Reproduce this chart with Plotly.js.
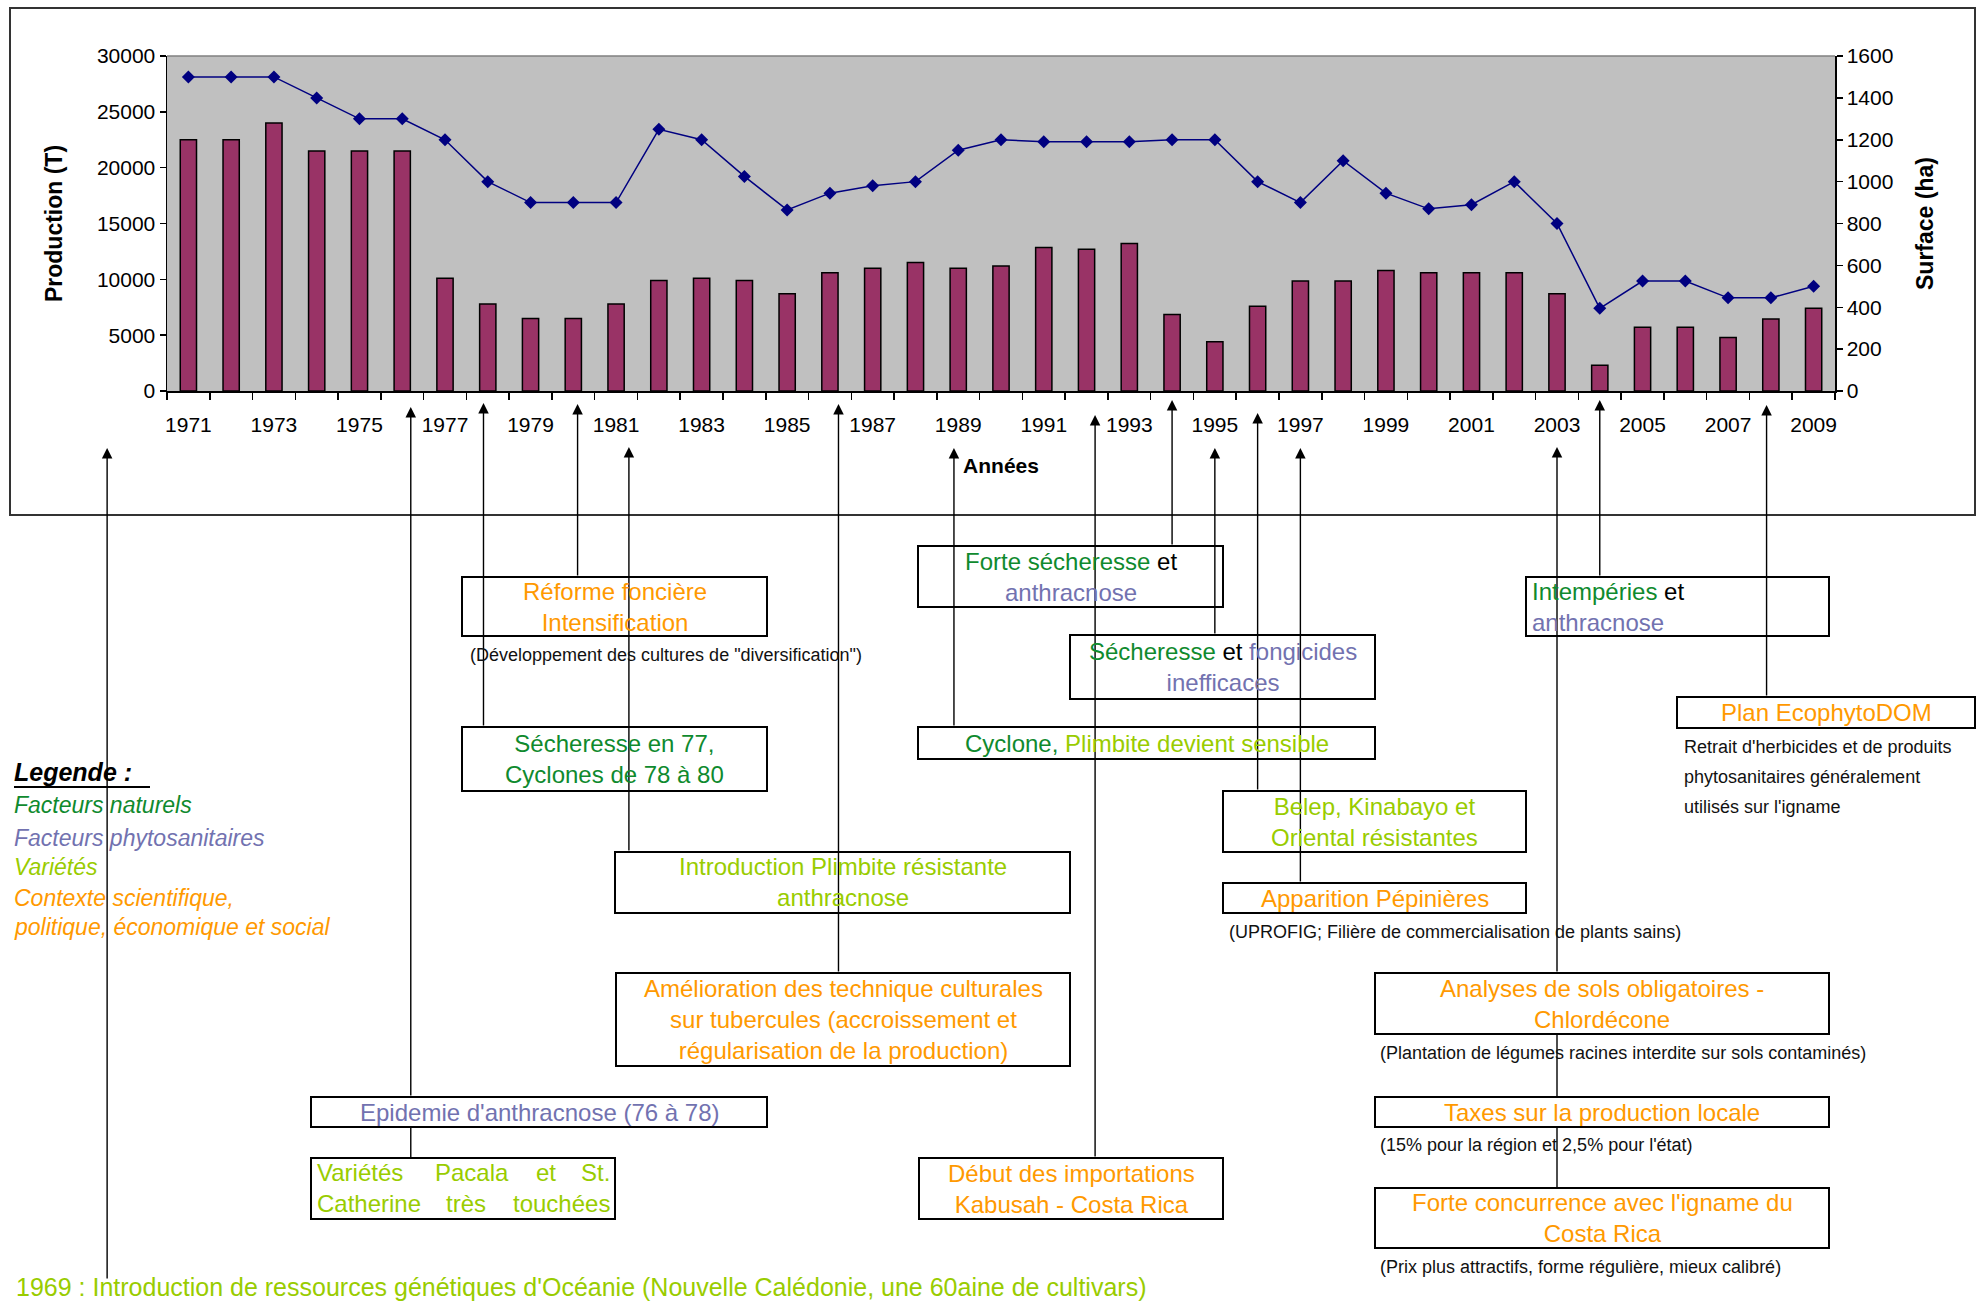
<!DOCTYPE html>
<html>
<head>
<meta charset="utf-8">
<script src="https://cdn.plot.ly/plotly-3.0.1.min.js"></script>
<style>html,body{margin:0;padding:0;background:#fff;}#chart{width:1979px;height:1305px;}</style>
</head>
<body>
<div id="chart"></div>
<script>
// ---------------- DATA ----------------
const years = [1971,1972,1973,1974,1975,1976,1977,1978,1979,1980,
               1981,1982,1983,1984,1985,1986,1987,1988,1989,1990,
               1991,1992,1993,1994,1995,1996,1997,1998,1999,2000,
               2001,2002,2003,2004,2005,2006,2007,2008,2009];
const production = [22500,22500,24000,21500,21500,21500,10100,7800,6500,6500,
                    7800,9900,10100,9900,8700,10600,11000,11500,11000,11200,
                    12850,12700,13200,6850,4400,7600,9850,9850,10800,10600,
                    10600,10600,8700,2300,5700,5700,4800,6450,7400];
const surface = [1500,1500,1500,1400,1300,1300,1200,1000,900,900,
                 900,1250,1200,1025,865,945,980,1000,1150,1200,
                 1190,1190,1190,1200,1200,1000,900,1100,945,870,
                 890,1000,800,395,525,525,445,445,500];
const tickYears = [1971,1973,1975,1977,1979,1981,1983,1985,1987,1989,
                   1991,1993,1995,1997,1999,2001,2003,2005,2007,2009];
const xTitle = 'Années';
const yTitle = 'Production (T)';
const y2Title = 'Surface (ha)';

// event arrows (year position of each event marker)
const eventYears = [1969.1,1976.2,1977.9,1980.1,1981.3,1986.2,1988.9,1992.2,1994,1995,1996,1997,2003,2004,2007.9];

// legend texts
const legendTitle = 'Legende :';
const legendItems = ['Facteurs naturels','Facteurs phytosanitaires','Variétés','Contexte scientifique,','politique, économique et social'];

// ---------------- STYLE / LAYOUT HELPERS ----------------
const FONT = 'Liberation Sans, Arial, Helvetica, sans-serif';
const G = '#0f8a2e', P = '#7272b0', LI = '#99cc00', O = '#ff9900';
const PX = {L:167, R:1835, T:56, B:391};
const fx = p => (p - PX.L) / (PX.R - PX.L);
const fy = p => (PX.B - p) / (PX.B - PX.T);
const c = (col, t) => '<span style="color:' + col + '">' + t + '</span>';
const yearToPaper = y => (y - 1970.5) / (2009.5 - 1970.5);

// arrow geometry: [head px, tail px] per event
const arrowGeom = [[448,1280],[407,1097],[403,727],[404,577],[447,852],[404,973],[448,727],
                   [415,1158],[400,546],[448,635],[413,791],[448,883],[447,973],[400,577],[405,697]];
// extra segments between chained boxes: [eventIndex, y0, y1]
const extraSegs = [[1,1127,1158],[12,1034,1097],[12,1127,1188]];

// boxes: [x0,x1,y0,y1] px, text, align
const boxes = [
  [462,767,577,636, c(O,'Réforme foncière')+'<br>'+c(O,'Intensification')],
  [462,767,727,791, c(G,'Sécheresse en 77,')+'<br>'+c(G,'Cyclones de 78 à 80')],
  [615,1070,852,913, c(LI,'Introduction Plimbite résistante')+'<br>'+c(LI,'anthracnose')],
  [918,1223,546,607, c(G,'Forte sécheresse')+' et<br>'+c(P,'anthracnose')],
  [1070,1375,635,699, c(G,'Sécheresse')+' et '+c(P,'fongicides')+'<br>'+c(P,'inefficaces')],
  [918,1375,727,759, c(G,'Cyclone,')+c(LI,' Plimbite devient sensible')],
  [1223,1526,791,852, c(LI,'Belep, Kinabayo et')+'<br>'+c(LI,'Oriental résistantes')],
  [1223,1526,883,913, c(O,'Apparition Pépinières')],
  [1526,1829,577,636, c(G,'Intempéries')+' et<br>'+c(P,'anthracnose'), 'left'],
  [1677,1975,697,728, c(O,'Plan EcophytoDOM')],
  [1375,1829,973,1034, c(O,'Analyses de sols obligatoires -')+'<br>'+c(O,'Chlordécone')],
  [1375,1829,1097,1127, c(O,'Taxes sur la production locale')],
  [1375,1829,1188,1248, c(O,"Forte concurrence avec l'igname du")+'<br>'+c(O,'Costa Rica')],
  [616,1070,973,1066, c(O,'Amélioration des technique culturales')+'<br>'+c(O,'sur tubercules (accroissement et')+'<br>'+c(O,'régularisation de la production)')],
  [311,767,1097,1127, c(P,"Epidemie d'anthracnose (76 à 78)")],
  [311,615,1158,1219, null],
  [919,1223,1158,1219, c(O,'Début des importations')+'<br>'+c(O,'Kabusah - Costa Rica')]
];
// justified words of the "Variétés" box: [text, x, anchor, y]
const justWords = [['Variétés',315,'left',1172],['Pacala',472,'center',1172],['et',546,'center',1172],['St.',612,'right',1172],
                   ['Catherine',315,'left',1203],['très',466,'center',1203],['touchées',612,'right',1203]];
// small notes: [text, x, y]
const notes = [
  ['(Développement des cultures de "diversification")',468,655],
  ['(UPROFIG; Filière de commercialisation de plants sains)',1227,932],
  ["Retrait d'herbicides et de produits",1682,747],
  ['phytosanitaires généralement',1682,777],
  ["utilisés sur l'igname",1682,807],
  ['(Plantation de légumes racines interdite sur sols contaminés)',1378,1053],
  ["(15% pour la région et 2,5% pour l'état)",1378,1145],
  ['(Prix plus attractifs, forme régulière, mieux calibré)',1378,1267]
];
const bottomNote = "1969 : Introduction de ressources génétiques d'Océanie (Nouvelle Calédonie, une 60aine de cultivars)";

// ---------------- TRACES ----------------
const traces = [
  {type:'bar', x:years, y:production, yaxis:'y', width:0.38,
   marker:{color:'#993366', line:{color:'#000', width:1.5}}, hoverinfo:'x+y'},
  {type:'scatter', mode:'lines+markers', x:years, y:surface, yaxis:'y2',
   line:{color:'#000080', width:1.5}, marker:{symbol:'diamond', size:10, color:'#000080'}}
];

// ---------------- SHAPES & ANNOTATIONS ----------------
const shapes = [];
const annotations = [];
shapes.push({type:'rect', xref:'paper', yref:'paper', x0:fx(10), x1:fx(1975), y0:fy(8), y1:fy(515), line:{color:'#333', width:2}, layer:'below'});
shapes.push({type:'line', xref:'paper', yref:'paper', x0:0, x1:1, y0:1, y1:1, line:{color:'#808080', width:1.5}});

function xSpec(yr){
  return yr < 1970.5 ? {xref:'paper', x:yearToPaper(yr)} : {xref:'x', x:yr};
}
eventYears.forEach((yr, i) => {
  const g = arrowGeom[i];
  annotations.push(Object.assign(xSpec(yr), {
    yref:'paper', y:fy(g[0]), text:'', showarrow:true, axref:'pixel', ayref:'pixel',
    ax:0, ay:g[1]-g[0], arrowhead:2, arrowsize:1.5, arrowwidth:1.4, arrowcolor:'#000'
  }));
});
extraSegs.forEach(s => {
  const sp = xSpec(eventYears[s[0]]);
  shapes.push({type:'line', xref:sp.xref, x0:sp.x, x1:sp.x, yref:'paper', y0:fy(s[1]), y1:fy(s[2]), line:{color:'#000', width:1.4}});
});
boxes.forEach(b => {
  shapes.push({type:'rect', xref:'paper', yref:'paper', x0:fx(b[0]), x1:fx(b[1]), y0:fy(b[3]), y1:fy(b[2]), line:{color:'#000', width:2}});
  if (b[4] === null) return;
  const left = b[5] === 'left';
  annotations.push({xref:'paper', yref:'paper', x:left ? fx(b[0]+4) : fx((b[0]+b[1])/2), y:fy((b[2]+b[3])/2),
    xanchor:left ? 'left' : 'center', yanchor:'middle', align:left ? 'left' : 'center',
    text:b[4], showarrow:false, font:{family:FONT, size:24, color:'#000'}});
});
justWords.forEach(w => {
  annotations.push({xref:'paper', yref:'paper', x:fx(w[1]), y:fy(w[3]), xanchor:w[2], yanchor:'middle',
    text:w[0], showarrow:false, font:{family:FONT, size:24, color:LI}});
});
notes.forEach(n => {
  annotations.push({xref:'paper', yref:'paper', x:fx(n[1]), y:fy(n[2]), xanchor:'left', yanchor:'middle',
    text:n[0], showarrow:false, font:{family:FONT, size:18, color:'#111'}});
});
annotations.push({xref:'paper', yref:'paper', x:fx(14), y:fy(1287), xanchor:'left', yanchor:'middle',
  text:bottomNote, showarrow:false, font:{family:FONT, size:25, color:LI}});
// legend block
const legendColors = [G, P, LI, O, O];
const legendY = [805, 838, 867, 898, 927];
annotations.push({xref:'paper', yref:'paper', x:fx(12), y:fy(772), xanchor:'left', yanchor:'middle',
  text:'<b><i>' + legendTitle + '</i></b>', showarrow:false, font:{family:FONT, size:25, color:'#000'}});
shapes.push({type:'line', xref:'paper', yref:'paper', x0:fx(14), x1:fx(150), y0:fy(787), y1:fy(787), line:{color:'#000', width:2}});
legendItems.forEach((t, i) => {
  annotations.push({xref:'paper', yref:'paper', x:fx(12), y:fy(legendY[i]), xanchor:'left', yanchor:'middle',
    text:'<i>' + t + '</i>', showarrow:false, font:{family:FONT, size:23, color:legendColors[i]}});
});

// ---------------- LAYOUT ----------------
const axisCommon = {showgrid:false, zeroline:false, showline:true, linecolor:'#000', linewidth:1.5,
  ticks:'outside', ticklen:6, tickwidth:1.5, tickcolor:'#000', tickfont:{family:FONT, size:21, color:'#000'}};
const layout = {
  width:1979, height:1305,
  margin:{l:PX.L, r:1979-PX.R, t:PX.T, b:1305-PX.B, pad:0},
  paper_bgcolor:'#ffffff', plot_bgcolor:'#c0c0c0',
  font:{family:FONT, color:'#000', size:21},
  showlegend:false,
  xaxis:Object.assign({}, axisCommon, {
    type:'linear', range:[1970.5, 2009.5], tickmode:'array', tickvals:tickYears, ticktext:tickYears.map(String),
    ticks:'', ticklabelstandoff:14,
    minor:{tickmode:'linear', tick0:1970.5, dtick:1, ticks:'outside', ticklen:7, tickwidth:1.5, tickcolor:'#000', showgrid:false},
    title:{text:'<b>' + xTitle + '</b>', font:{family:FONT, size:21, color:'#000'}, standoff:23}
  }),
  yaxis:Object.assign({}, axisCommon, {
    range:[0, 30000], tickmode:'linear', tick0:0, dtick:5000, tickformat:'d',
    title:{text:'<b>' + yTitle + '</b>', font:{family:FONT, size:23, color:'#000'}, standoff:28}
  }),
  yaxis2:Object.assign({}, axisCommon, {
    overlaying:'y', side:'right', range:[0, 1600], tickmode:'linear', tick0:0, dtick:200, tickformat:'d',
    title:{text:'<b>' + y2Title + '</b>', font:{family:FONT, size:23, color:'#000'}, standoff:24}
  }),
  shapes:shapes,
  annotations:annotations
};

Plotly.newPlot('chart', traces, layout, {displayModeBar:false, staticPlot:true});
</script>
</body>
</html>
